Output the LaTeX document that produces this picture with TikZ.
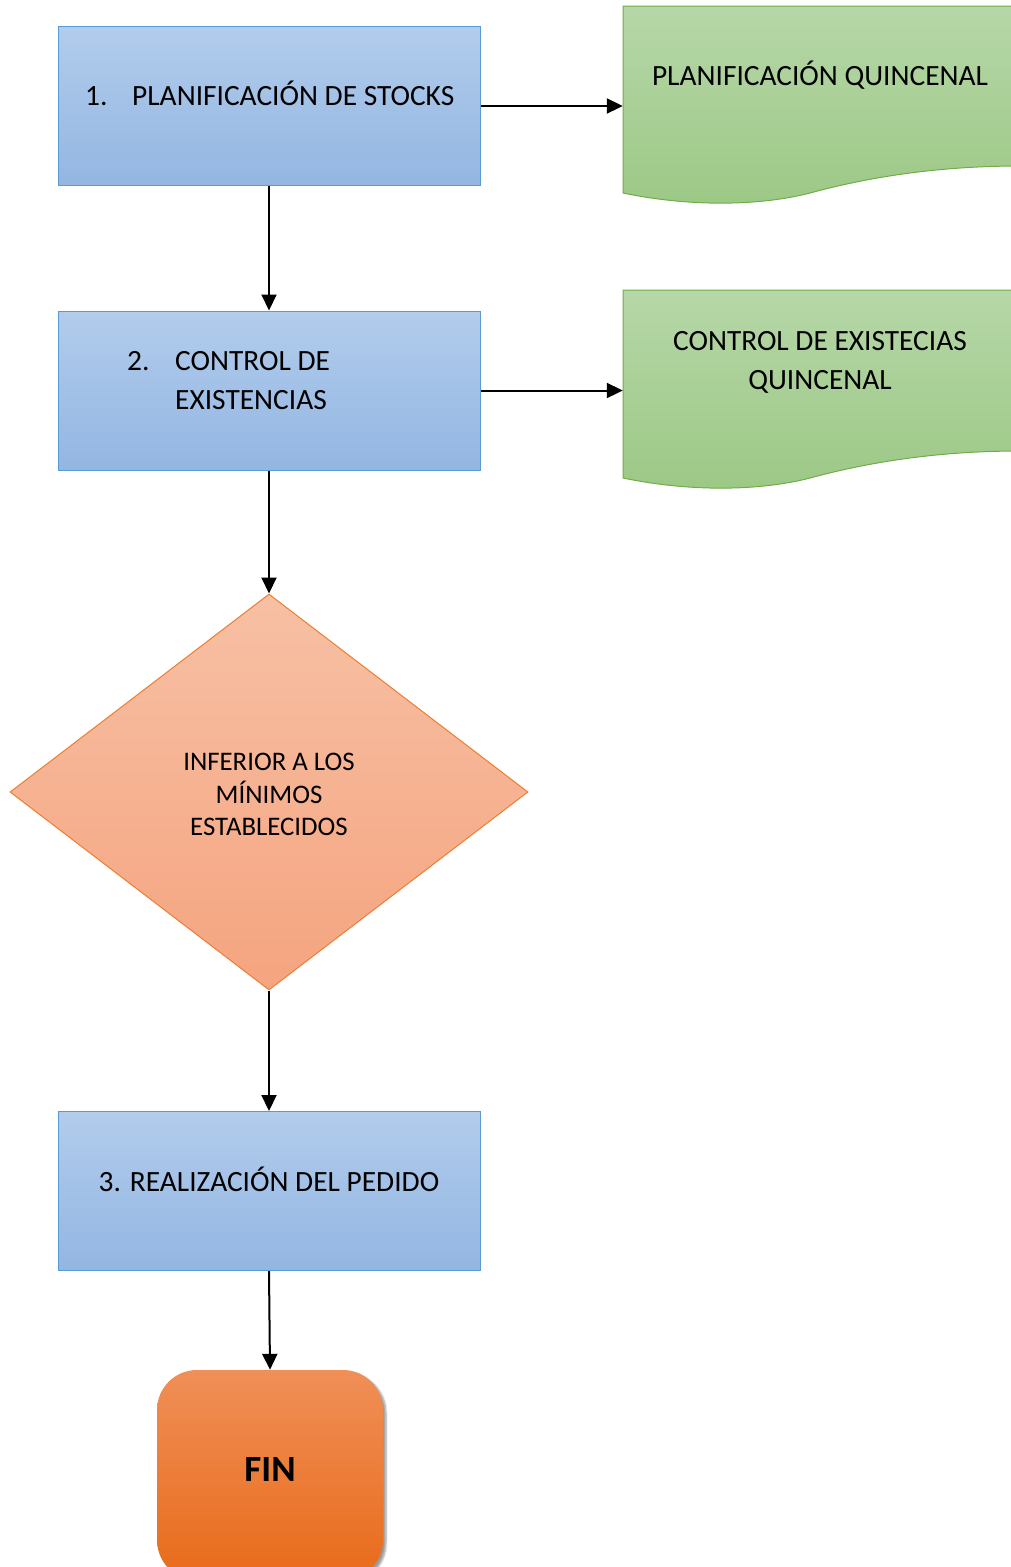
\documentclass[tikz,border=0pt]{standalone}
\usepackage{fontspec}
\setmainfont{Carlito}
\usetikzlibrary{arrows.meta,shapes.geometric,shadows.blur}
\definecolor{boxtop}{HTML}{B2CCEC}
\definecolor{boxbot}{HTML}{93B6E2}
\definecolor{boxline}{HTML}{5B9BD5}
\definecolor{doctop}{HTML}{B6D7A8}
\definecolor{docbot}{HTML}{9CC885}
\definecolor{docline}{HTML}{70AD47}
\definecolor{diatop}{HTML}{F7C0A4}
\definecolor{diabot}{HTML}{F5A47F}
\definecolor{dialine}{HTML}{ED7D31}
\definecolor{fintop}{HTML}{F08F58}
\definecolor{finbot}{HTML}{E86B19}
\begin{document}
\begin{tikzpicture}[x=1pt,y=-1pt,
  box/.style={rectangle,draw=boxline,line width=1pt,top color=boxtop,bottom color=boxbot,
    minimum width=422pt,minimum height=159pt,inner sep=0pt},
  anchorbox/.style={rectangle,minimum width=388pt,minimum height=188pt,inner sep=0pt},
  dia/.style={diamond,draw=dialine,line width=1pt,top color=diatop,bottom color=diabot,
    minimum width=518pt,minimum height=396pt,inner sep=0pt},
  finbox/.style={rectangle,rounded corners=40pt,top color=fintop,bottom color=finbot,
    minimum width=226pt,minimum height=210pt,inner sep=0pt,
    blur shadow={shadow xshift=3pt,shadow yshift=-3pt,shadow blur steps=6,shadow opacity=40}},
  txt/.style={font=\fontsize{29.4}{39}\selectfont,inner sep=0pt},
  dtxt/.style={font=\fontsize{26.8}{32.5}\selectfont,inner sep=0pt},
  arr/.style={line width=2pt,-{Triangle[length=16pt,width=15pt]}},
  docshape/.style={draw=docline,line width=1pt,top color=doctop,bottom color=docbot}
]
\useasboundingbox (0,0) rectangle (1011,1567);
\clip (0,0) rectangle (1011,1567);

% document shapes
\path[docshape] (623,6) -- (1020,6) -- (1020,166)
  .. controls (950,166) and (880,174) .. (810,193)
  .. controls (760,206) and (690,207) .. (623,193) -- cycle;
\path[docshape] (623,290) -- (1020,290) -- (1020,451)
  .. controls (950,451) and (880,459) .. (810,478)
  .. controls (760,491) and (690,492) .. (623,478) -- cycle;
\node[anchorbox] (d1) at (817,100) {};
\node[anchorbox] (d2) at (817,384) {};
\node[txt,anchor=base] (d1t) at (820,85) {PLANIFICACIÓN QUINCENAL};
\node[txt,anchor=base] (d2ta) at (820,350) {CONTROL DE EXISTECIAS};
\node[txt,anchor=base] (d2tb) at (820,389) {QUINCENAL};

% process boxes
\node[box] (b1) at (269,106) {};
\node[box] (b2) at (269,390.5) {};
\node[box] (b3) at (269,1191) {};
\node[txt,anchor=base west] (b1n) at (85,105) {1.};
\node[txt,anchor=base west] (b1t) at (132,105) {PLANIFICACIÓN DE STOCKS};
\node[txt,anchor=base west] (b2n) at (127,370) {2.};
\node[txt,anchor=base west] (b2ta) at (175,370) {CONTROL DE};
\node[txt,anchor=base west] (b2tb) at (175,409) {EXISTENCIAS};
\node[txt,anchor=base] (b3t) at (269,1191) {3. REALIZACIÓN DEL PEDIDO};

% decision
\node[dia] (dd) at (269,792) {};
\node[dtxt,anchor=base] (dt1) at (269,770) {INFERIOR A LOS};
\node[dtxt,anchor=base] (dt2) at (269,803) {MÍNIMOS};
\node[dtxt,anchor=base] (dt3) at (269,835) {ESTABLECIDOS};

% end
\node[finbox] (fin) at (270,1475) {};
\node[font=\fontsize{37}{44}\selectfont\bfseries,anchor=base,inner sep=0pt] (fint) at (270,1481) {FIN};

% connectors
\draw[arr] (b1.east) -- (b1.east -| d1.west);
\draw[arr] (b2.east) -- (b2.east -| d2.west);
\draw[arr] (b1.south) -- (b2.north);
\draw[arr] (b2.south) -- (dd.north);
\draw[arr] (dd.south) -- (b3.north);
\draw[arr] (b3.south) -- (fin.north);
\end{tikzpicture}
\end{document}
